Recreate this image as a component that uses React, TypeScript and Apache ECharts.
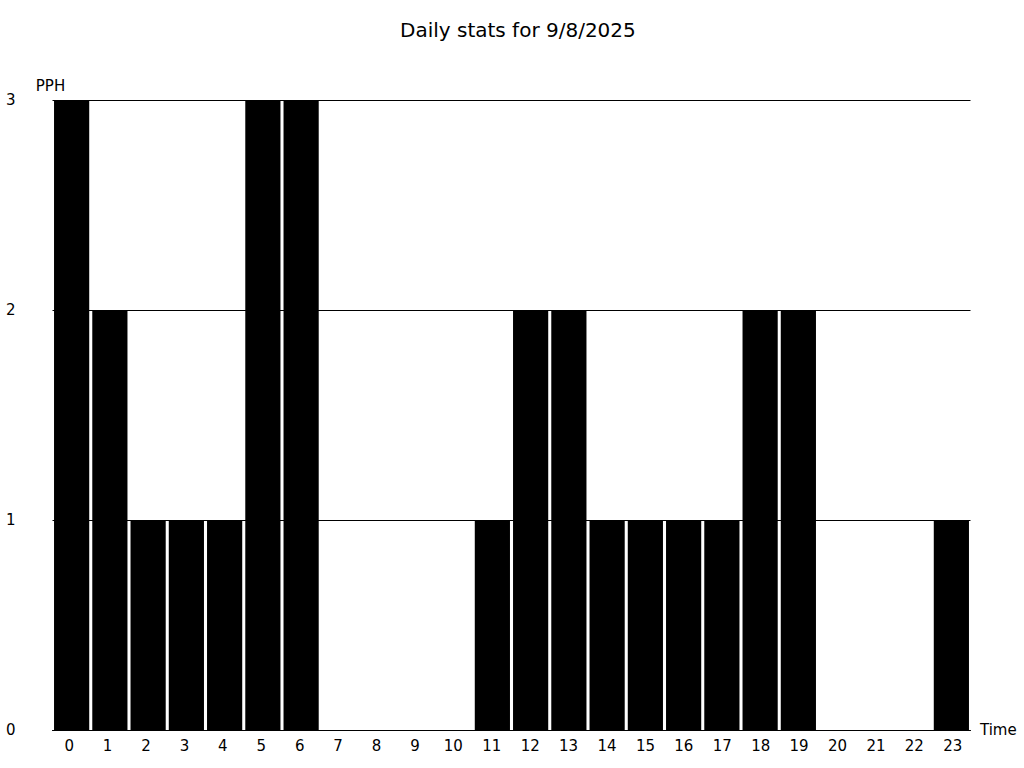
import React, { useEffect, useRef } from "react";
import * as echarts from "echarts";

const hours = ["0","1","2","3","4","5","6","7","8","9","10","11","12","13","14","15","16","17","18","19","20","21","22","23"];
const pph = [3,2,1,1,1,3,3,0,0,0,0,1,2,2,1,1,1,1,2,2,0,0,0,1];
const titleText = "Daily stats for 9/8/2025";
const FONT = "DejaVu Sans";

export default function App() {
  const ref = useRef<HTMLDivElement>(null);
  useEffect(() => {
    document.body.style.margin = "0";
    const chart = echarts.init(ref.current!, null, { renderer: "svg" });
    chart.setOption({
      animation: false,
      backgroundColor: "#ffffff",
      textStyle: { fontFamily: FONT },
      title: {
        text: titleText,
        left: 395,
        top: 15,
        textStyle: { fontFamily: FONT, fontSize: 20, fontWeight: "normal", color: "#000" },
      },
      grid: [
        { left: 52.5, right: 53.5, top: 100, bottom: 38, containLabel: false },
        { left: 50, right: 52, top: 100, bottom: 38, containLabel: false },
      ],
      xAxis: [
        {
          type: "category",
          gridIndex: 0,
          data: hours,
          name: "Time",
          nameLocation: "end",
          nameGap: 9.5,
          nameTextStyle: { fontFamily: FONT, fontSize: 15, color: "#000", verticalAlign: "middle" },
          axisLine: { show: true, lineStyle: { color: "#000", width: 1 } },
          axisTick: { show: false },
          axisLabel: { show: false },
          splitLine: { show: false },
        },
        {
          type: "category",
          gridIndex: 1,
          data: hours,
          axisLine: { show: false },
          axisTick: { show: false },
          axisLabel: { fontFamily: FONT, fontSize: 15, color: "#000", margin: 8 },
          splitLine: { show: false },
        },
      ],
      yAxis: [
        {
          type: "value",
          gridIndex: 0,
          min: 0,
          max: 3,
          interval: 1,
          name: "PPH",
          nameLocation: "end",
          nameGap: 7,
          nameTextStyle: { fontFamily: FONT, fontSize: 15, color: "#000", padding: [0, 4, 0, 0] },
          axisLine: { show: false },
          axisTick: { show: false },
          axisLabel: { fontFamily: FONT, fontSize: 15, color: "#000", margin: 37 },
          splitLine: { show: true, lineStyle: { color: "#000", width: 1 } },
        },
        {
          type: "value",
          gridIndex: 1,
          min: 0,
          max: 3,
          interval: 1,
          show: false,
        },
      ],
      series: [
        {
          type: "bar",
          xAxisIndex: 0,
          yAxisIndex: 0,
          data: pph,
          barCategoryGap: "8%",
          itemStyle: { color: "#000" },
        },
      ],
    });
    return () => chart.dispose();
  }, []);
  return <div ref={ref} style={{ width: 1024, height: 768 }} />;
}
